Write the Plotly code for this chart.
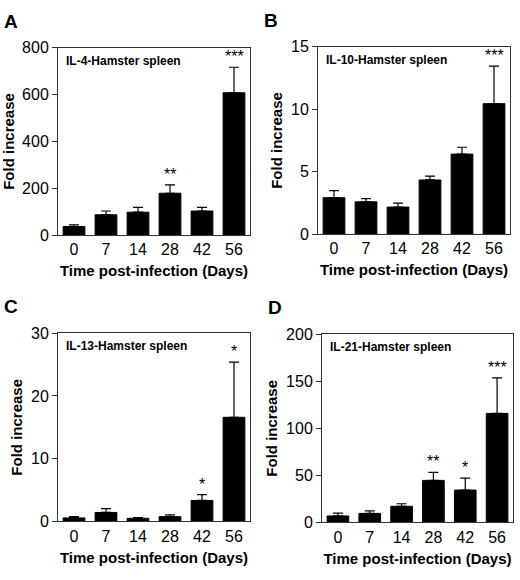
import plotly.graph_objects as go

days = ["0", "7", "14", "28", "42", "56"]

il4_mean = [37, 87, 98, 179, 103, 608]
il4_err = [7, 16, 21, 36, 16, 109]
il4_sig = ["", "", "", "**", "", "***"]

il10_mean = [2.92, 2.59, 2.17, 4.34, 6.41, 10.45]
il10_err = [0.57, 0.26, 0.31, 0.31, 0.55, 3.0]
il10_sig = ["", "", "", "", "", "***"]

il13_mean = [0.57, 1.44, 0.51, 0.77, 3.35, 16.6]
il13_err = [0.2, 0.62, 0.1, 0.3, 0.92, 8.8]
il13_sig = ["", "", "", "", "*", "*"]

il21_mean = [6.9, 9.6, 17.2, 44.7, 34.4, 115.8]
il21_err = [3.0, 2.7, 2.7, 8.6, 12.7, 37.8]
il21_sig = ["", "", "", "**", "*", "***"]

panels = [
    dict(letter="A", title="IL-4-Hamster spleen", mean=il4_mean, err=il4_err, sig=il4_sig,
         ymax=800, dtick=200, x=(58, 250), y=(41, 234)),
    dict(letter="B", title="IL-10-Hamster spleen", mean=il10_mean, err=il10_err, sig=il10_sig,
         ymax=15, dtick=5, x=(318, 510), y=(40, 233)),
    dict(letter="C", title="IL-13-Hamster spleen", mean=il13_mean, err=il13_err, sig=il13_sig,
         ymax=30, dtick=10, x=(58, 250), y=(335, 529)),
    dict(letter="D", title="IL-21-Hamster spleen", mean=il21_mean, err=il21_err, sig=il21_sig,
         ymax=200, dtick=50, x=(322, 513), y=(336, 530)),
]

W, H = 520, 580
FONT = "Arial, Liberation Sans, sans-serif"
fig = go.Figure()
annotations = []

for i, p in enumerate(panels):
    n = "" if i == 0 else str(i + 1)
    xa, ya = "x" + n, "y" + n
    fig.add_trace(go.Bar(
        x=days, y=p["mean"], xaxis=xa, yaxis=ya,
        marker=dict(color="black", line=dict(color="black", width=1)),
        width=0.68,
        error_y=dict(type="data", array=p["err"], arrayminus=[0] * 6, symmetric=False,
                     color="black", thickness=1.2, width=5),
        showlegend=False, hoverinfo="skip",
    ))
    x0, x1 = p["x"][0] / W, p["x"][1] / W
    y0, y1 = 1 - p["y"][1] / H, 1 - p["y"][0] / H
    axis_common = dict(showline=True, linecolor="#333", linewidth=1, mirror=True,
                       showgrid=False, zeroline=False)
    fig.layout["xaxis" + n] = dict(domain=[x0, x1], anchor=ya, ticks="", type="category",
                                   range=[-0.5, len(days) - 0.5],
                                   tickfont=dict(family=FONT, size=16, color="black"),
                                   title=dict(text="<b>Time post-infection (Days)</b>",
                                              font=dict(family=FONT, size=15, color="black"),
                                              standoff=8),
                                   **axis_common)
    fig.layout["yaxis" + n] = dict(domain=[y0, y1], anchor=xa, range=[0, p["ymax"]],
                                   dtick=p["dtick"], ticks="outside", ticklen=5,
                                   tickcolor="#333",
                                   tickfont=dict(family=FONT, size=16, color="black"),
                                   title=dict(text="<b>Fold increase</b>",
                                              font=dict(family=FONT, size=15, color="black"),
                                              standoff=4),
                                   **axis_common)
    annotations.append(dict(text="<b>" + p["title"] + "</b>", xref=xa + " domain", yref=ya + " domain",
                            x=0.03, y=0.93, xanchor="left", yanchor="middle", showarrow=False,
                            font=dict(family=FONT, size=12, color="black")))
    annotations.append(dict(text="<b>" + p["letter"] + "</b>", xref="paper", yref="paper",
                            x=(p["x"][0] - 56) / W, y=1 - (p["y"][0] - 27) / H,
                            xanchor="left", yanchor="middle", showarrow=False,
                            font=dict(family=FONT, size=19, color="black")))
    for k, (m, e, s) in enumerate(zip(p["mean"], p["err"], p["sig"])):
        if s:
            annotations.append(dict(text=s, x=k, y=m + e, xref=xa, yref=ya,
                                    xanchor="center", yanchor="bottom", yshift=0,
                                    showarrow=False,
                                    font=dict(family=FONT, size=16, color="black")))

fig.update_layout(width=W, height=H, margin=dict(l=0, r=0, t=0, b=0),
                  plot_bgcolor="white", paper_bgcolor="white", bargap=0.3,
                  annotations=annotations)

fig.write_html("out.html", config={"displayModeBar": False},
               post_script="document.body.style.margin='0';document.body.style.overflow='hidden';")
